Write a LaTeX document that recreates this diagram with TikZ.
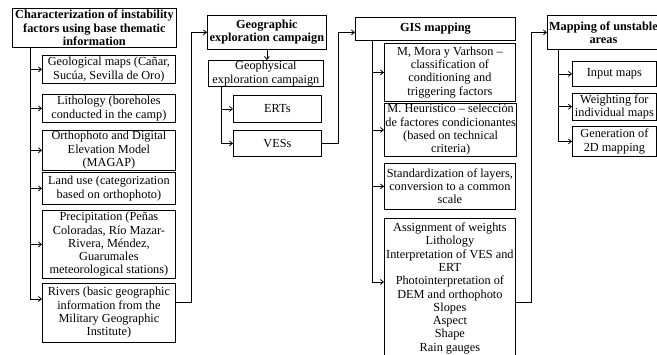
\documentclass[tikz,border=0pt]{standalone}
\usepackage{fontspec}
\setmainfont{Liberation Serif}
\usetikzlibrary{arrows.meta,calc}
\begin{document}
\begin{tikzpicture}[x=1pt,y=-1pt,
  box/.style={draw, line width=0.8pt, align=center, inner sep=1pt, anchor=north west,
    font=\fontsize{12.3}{13.3}\selectfont},
  hbox/.style={box, font=\fontsize{12.3}{13.3}\selectfont\bfseries},
  arr/.style={line width=0.8pt, -{Straight Barb[length=3pt,width=5pt]}},
  ln/.style={line width=0.8pt}]
\useasboundingbox (0,0) rectangle (657,354);

% Column 1
\node[hbox, minimum width=164, minimum height=39] (c1) at (12,8)
  {Characterization of instability\\factors using base thematic\\information};
\node[box, minimum width=133, minimum height=28] (geo) at (42,55)
  {Geological maps (Cañar,\\Sucúa, Sevilla de Oro)};
\node[box, minimum width=133, minimum height=28] (lit) at (42,94)
  {Lithology (boreholes\\conducted in the camp)};
\node[box, minimum width=133, minimum height=37] (ort) at (42,130)
  {Orthophoto and Digital\\Elevation Model\\(MAGAP)};
\node[box, minimum width=133, minimum height=32] (lan) at (42,172)
  {Land use (categorization\\based on orthophoto)};
\node[box, minimum width=133, minimum height=68] (pre) at (42,210)
  {Precipitation (Peñas\\Coloradas, Río Mazar-\\Rivera, Méndez,\\Guarumales\\meteorological stations)};
\node[box, minimum width=133, minimum height=59] (riv) at (42,283)
  {Rivers (basic geographic\\information from the\\Military Geographic\\Institute)};

\coordinate (t1) at (30,47);
\coordinate (r1) at ($(riv.north west)+(0,16)$);
\draw[arr] (t1) |- (r1);
\foreach \n in {geo,lit,ort,lan,pre}
  \draw[arr] (t1 |- \n.west) -- (\n.west);

% Column 2
\node[hbox, minimum width=119, minimum height=34] (gx) at (207,15)
  {Geographic\\exploration campaign};
\node[box, minimum width=115, minimum height=26] (gp) at (208,60)
  {Geophysical\\exploration campaign};
\node[box, minimum width=88, minimum height=27] (ert) at (233,95) {ERTs};
\node[box, minimum width=88, minimum height=26] (ves) at (233,130) {VESs};

\draw[arr] ($(riv.north east)+(0,19)$) -- ++(16,0) |- (gx.west);
\draw[arr] (gx.south) -- (gx.south |- gp.north);
\coordinate (t2) at (221,86);
\draw[arr] (t2) |- (ves.west);
\draw[arr] (t2 |- ert.west) -- (ert.west);

% Column 3
\node[hbox, minimum width=160, minimum height=23] (gis) at (355,17) {GIS mapping};
\node[box, minimum width=131, minimum height=58] (mor) at (384,43)
  {M, Mora y Varhson –\\classification of\\conditioning and\\triggering factors};
\node[box, minimum width=131, minimum height=49] (heu) at (384,103)
  {M. Heurístico – selección\\de factores condicionantes\\(based on technical\\criteria)};
\node[box, minimum width=131, minimum height=46] (std) at (384,163)
  {Standardization of layers,\\conversion to a common\\scale};
\node[box, minimum width=131, minimum height=140] (asg) at (384,218)
  {Assignment of weights\\Lithology\\Interpretation of VES and\\ERT\\Photointerpretation of\\DEM and orthophoto\\Slopes\\Aspect\\Shape\\Rain gauges};

\coordinate (g1) at ($(gis.west)+(0,3.5)$);
\draw[arr] (ves.east) -- ++(17,0) |- (g1);
\coordinate (t3) at (372,40);
\draw[arr] (t3) |- ($(asg.north west)+(0,64)$);
\foreach \n in {mor,heu,std}
  \draw[arr] (t3 |- \n.west) -- (\n.west);

% Column 4
\node[hbox, minimum width=112, minimum height=34] (map) at (547,15)
  {Mapping of unstable\\areas};
\node[box, minimum width=84, minimum height=25] (inp) at (572,61) {Input maps};
\node[box, minimum width=84, minimum height=25] (wei) at (572,93)
  {Weighting for\\individual maps};
\node[box, minimum width=84, minimum height=30] (gen) at (572,126)
  {Generation of\\2D mapping};

\draw[arr] ($(asg.north east)+(0,84)$) -- ++(16,0) |- (map.west);
\coordinate (t4) at (558,49);
\draw[arr] (t4) |- (gen.west);
\foreach \n in {inp,wei}
  \draw[arr] (t4 |- \n.west) -- (\n.west);
\end{tikzpicture}
\end{document}
